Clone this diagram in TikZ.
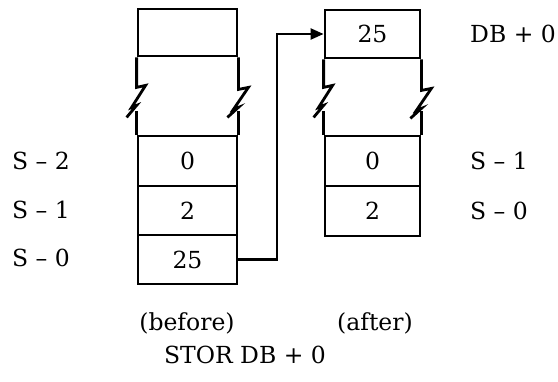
\documentclass[tikz,border=0pt]{standalone}
\usepackage{fontspec}
\setmainfont{DejaVu Serif}
\usetikzlibrary{arrows.meta}
\begin{document}
\begin{tikzpicture}[x=1pt,y=-1pt,
  every node/.style={font=\fontsize{23.5}{28}\selectfont, inner sep=0pt},
  lcell/.style={draw, line width=2.8pt, minimum width=99pt, anchor=center},
  rcell/.style={draw, line width=2.8pt, minimum width=95pt, anchor=center},
  wall/.style={line width=2.8pt},
  lbl/.style={anchor=west},
  conn/.style={line width=2.2pt, -{Triangle[length=13pt,width=11pt]}}]
\useasboundingbox (0,0) rectangle (558,381);
% left stack
\node[lcell, minimum height=47pt] (Ltop) at (187.5,32.5) {};
\node[lcell, minimum height=50pt] (L0) at (187.5,161) {0};
\node[lcell, minimum height=49pt] (L2) at (187.5,210.5) {2};
\node[lcell, minimum height=49pt] (L25) at (187.5,259.5) {25};
% right stack
\node[rcell, minimum height=48pt] (Rtop) at (372.5,34) {25};
\node[rcell, minimum height=50pt] (R0) at (372.5,161) {0};
\node[rcell, minimum height=50pt] (R2) at (372.5,211) {2};
% broken walls, left stack
\draw[wall] (Ltop.south west) -- ++(0,30) -- ++(9,-2) -- ++(-14,22) -- ++(5,-2) -- ++(-10,12);
\draw[wall] (L0.north west) -- ++(0,-24);
\draw[wall] (Ltop.south east) -- ++(0,32) -- ++(10,-2) -- ++(-15,22) -- ++(5,-2) -- ++(-11,10);
\draw[wall] (L0.north east) -- ++(0,-24);
% broken walls, right stack
\draw[wall] (Rtop.south west) -- ++(0,28) -- ++(9,-2) -- ++(-14,22) -- ++(5,-2) -- ++(-10,12);
\draw[wall] (R0.north west) -- ++(0,-24);
\draw[wall] (Rtop.south east) -- ++(0,31) -- ++(10,-2) -- ++(-15,22) -- ++(5,-2) -- ++(-11,10);
\draw[wall] (R0.north east) -- ++(0,-24);
% connector
\coordinate (bend) at (277,258);
\draw[conn] (L25.east) -- (L25.east -| bend) -- (bend |- Rtop.west) -- (Rtop.west);
% labels
\node[lbl] (s2) at (12,161) {S – 2};
\node[lbl] (s1) at (12,210) {S – 1};
\node[lbl] (s0) at (12,258) {S – 0};
\node[lbl] (db) at (470,34) {DB + 0};
\node[lbl] (rs1) at (470,161) {S – 1};
\node[lbl] (rs0) at (470,211) {S – 0};
\node (before) at (187,323) {(before)};
\node (after) at (375,323) {(after)};
\node (stor) at (245,355) {STOR DB + 0};
\end{tikzpicture}
\end{document}
